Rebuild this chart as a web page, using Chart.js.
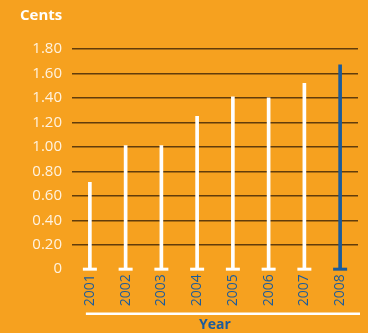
<!DOCTYPE html>
<html>
<head>
<meta charset="utf-8">
<title>Cents per year</title>
<script src="https://cdn.jsdelivr.net/npm/chart.js@4/dist/chart.umd.min.js"></script>
<style>
  html, body { margin: 0; padding: 0; background: #f6a11f; }
  #wrap { width: 368px; height: 333px; position: relative; }
</style>
</head>
<body>
<div id="wrap"><canvas id="centsChart"></canvas></div>
<script>
const YEARS = ['2001', '2002', '2003', '2004', '2005', '2006', '2007', '2008'];
const CENTS = [0.71, 1.01, 1.01, 1.25, 1.41, 1.40, 1.52, 1.67];
const Y_TICK_LABELS = ['0', '0.20', '0.40', '0.60', '0.80', '1.00', '1.20', '1.40', '1.60', '1.80'];

const ORANGE = '#f6a11f';
const WHITE = '#ffffff';
const BLUE = '#1a5b9c';
const GRID = 'rgba(70,42,8,0.85)';
const FONT = '"Open Sans", "Noto Sans", sans-serif';

// last year is highlighted in blue
const barColors = YEARS.map((_, i) => i === YEARS.length - 1 ? BLUE : WHITE);

// white rule between the year labels and the axis title
const ruleUnderLabels = {
  id: 'ruleUnderLabels',
  afterDraw(chart) {
    const x = chart.scales.x;
    const ctx = chart.ctx;
    const y = x.bottom - 16.8 - 2.5;
    ctx.save();
    ctx.strokeStyle = WHITE;
    ctx.lineWidth = 2.5;
    ctx.beginPath();
    ctx.moveTo(x.getPixelForValue(0) - 4, y);
    ctx.lineTo(chart.chartArea.right + 2, y);
    ctx.stroke();
    ctx.restore();
  }
};

const bgFill = {
  id: 'bgFill',
  beforeDraw(chart) {
    const ctx = chart.ctx;
    ctx.save();
    ctx.fillStyle = ORANGE;
    ctx.fillRect(0, 0, chart.width, chart.height);
    ctx.restore();
  }
};

new Chart(document.getElementById('centsChart'), {
  data: {
    labels: YEARS,
    datasets: [{
      type: 'bar',
      data: CENTS,
      backgroundColor: barColors,
      barThickness: 3,
      borderWidth: 0,
      order: 2
    }, {
      // small foot under each bar
      type: 'line',
      data: YEARS.map(() => 0),
      showLine: false,
      pointStyle: 'line',
      pointRadius: 7,
      pointBorderWidth: 3,
      pointBorderColor: barColors,
      pointBackgroundColor: barColors,
      clip: false,
      order: 1
    }]
  },
  options: {
    responsive: true,
    maintainAspectRatio: false,
    animation: false,
    layout: { padding: { left: 20, right: 7, top: 7, bottom: 0 } },
    plugins: {
      legend: { display: false },
      tooltip: { enabled: false },
      title: {
        display: true,
        text: 'Cents',
        align: 'start',
        color: WHITE,
        font: { family: FONT, size: 15, weight: 'bold' },
        padding: { top: 0, bottom: 24 }
      }
    },
    scales: {
      x: {
        offset: true,
        grid: { display: false, drawTicks: false },
        border: { display: false },
        ticks: {
          color: BLUE,
          font: { family: FONT, size: 14 },
          minRotation: 90,
          maxRotation: 90,
          padding: 5
        },
        title: {
          display: true,
          text: 'Year',
          color: BLUE,
          font: { family: FONT, size: 14, weight: 'bold' },
          padding: { top: 5, bottom: 0 }
        }
      },
      y: {
        min: 0,
        max: 1.8,
        border: { display: false },
        grid: {
          drawTicks: false,
          lineWidth: 1.5,
          color: c => c.tick.value === 0 ? 'rgba(0,0,0,0)' : GRID
        },
        ticks: {
          stepSize: 0.2,
          color: '#fff3e0',
          font: { family: FONT, size: 15 },
          padding: 10,
          callback: (v, i) => Y_TICK_LABELS[i]
        },
        afterFit(scale) { scale.width = 52; }
      }
    }
  },
  plugins: [bgFill, ruleUnderLabels]
});
</script>
</body>
</html>
